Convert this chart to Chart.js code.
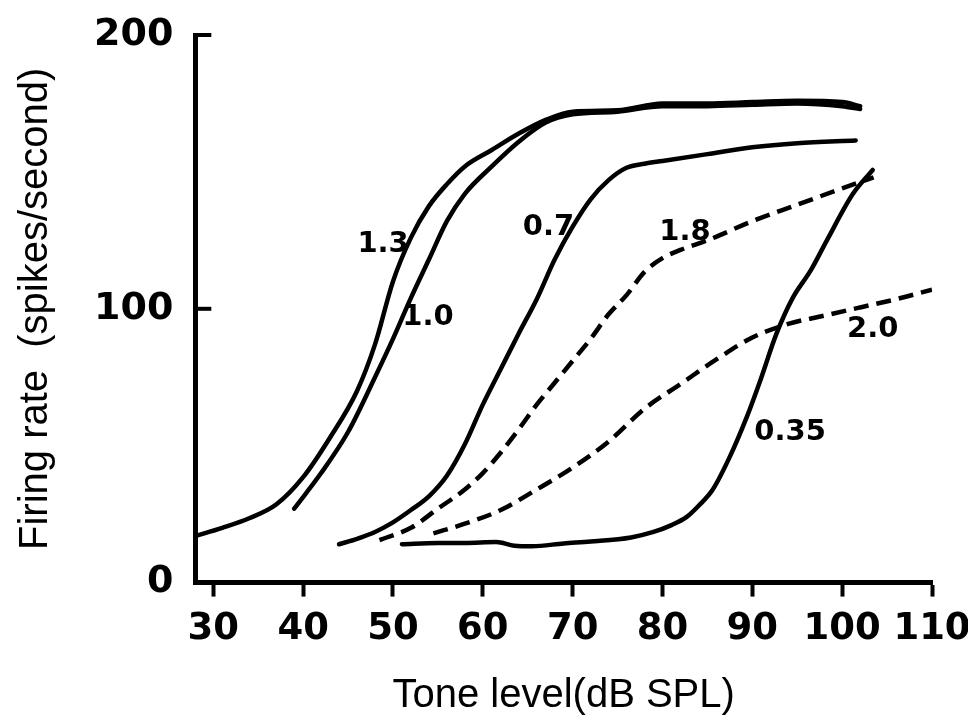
<!DOCTYPE html>
<html>
<head>
<meta charset="utf-8">
<title>Firing rate vs tone level</title>
<script src="https://cdn.jsdelivr.net/npm/chart.js@4.4.1/dist/chart.umd.min.js"></script>
<style>
    html, body { margin: 0; padding: 0; background: #fff; }
    #rateChart { display: block; }
</style>
</head>
<body>
<canvas id="rateChart" width="968" height="720"></canvas>
<script>
// Axis ticks
const xTicks = [30, 40, 50, 60, 70, 80, 90, 100, 110];
const yTicks = [0, 100, 200];

// Curve names (characteristic frequency of each fibre)
const curveNames = ['1.3', '1.0', '0.7', '1.8', '2.0', '0.35'];

// Tone level (dB SPL) and firing rate (spikes/second), one pair per curve
const levels13 = [28, 31, 34, 37, 40, 43, 46, 48, 50, 52, 54, 56, 58, 61, 64, 67, 70, 75, 80, 85, 90, 95, 100, 102];
const rates13  = [17, 20, 23.5, 28.5, 38.5, 53, 70, 87, 110, 126, 137.5, 145.5, 152, 158, 164, 169, 172, 172.5, 175, 175, 175.5, 176, 175.5, 174];

const levels10 = [39, 42, 45, 48, 50, 52, 54, 56, 58, 61, 64, 67, 70, 75, 80, 85, 90, 95, 100, 102];
const rates10  = [27, 40, 55, 75, 89, 104, 118, 132, 142, 152, 161, 168, 171, 172, 174, 174, 174.5, 175, 174, 173];

const levels07 = [44, 46, 48, 50, 52, 54, 56, 58, 60, 62, 64, 66, 68, 70, 72, 74, 76, 78, 80, 85, 90, 95, 101.5];
const rates07  = [14, 16, 18.5, 22, 26.5, 31.5, 39, 50.5, 65, 78, 91, 103.5, 118, 130, 140, 147, 151.5, 153, 154, 156.5, 159, 160.5, 161.5];

const levels18 = [48.5, 52, 55, 58, 60, 62, 64, 66, 68, 70, 72, 74, 76, 78, 80, 82, 85, 90, 95, 100, 103.5];
const rates18  = [15.5, 20, 27, 34, 40, 47.5, 56, 65, 73, 81, 89, 98, 105, 113.5, 118.5, 121.5, 125, 132, 138, 144, 148];

const levels20 = [54.5, 58, 62, 66, 70, 74, 78, 82, 86, 90, 94, 98, 102, 106, 110];
const rates20  = [18, 21.5, 26.5, 34, 42, 51.5, 63.5, 72.5, 81.5, 89.5, 94.5, 97.5, 100.5, 103.5, 107];

const levels035 = [51, 55, 58, 61.5, 63.5, 65.5, 69, 72, 76.5, 79, 81, 82.7, 84, 85.6, 87.5, 89.4, 90.8, 92.7, 94.5, 96.5, 98.3, 101.2, 103.4];
const rates035  = [14, 14.5, 14.5, 14.8, 13.5, 13.3, 14.3, 15, 16.5, 18.5, 21, 24, 28, 34, 46, 60.6, 73, 91, 104, 114, 125, 142, 150.7];

// Where each curve's name is written (dB SPL, spikes/second)
const labelLevels = [48.9, 53.9, 67.3, 82.5, 103.4, 94.2];
const labelRates  = [123.4, 96.7, 129.6, 128, 92.3, 55];

const tickFont = "'DejaVu Sans', sans-serif";
const titleFont = "'Liberation Sans', Arial, sans-serif";

document.addEventListener('DOMContentLoaded', function() {
    initializeChart();
});

// Pair up level and rate arrays for a linear x axis
function toPoints(levels, rates) {
    return levels.map((lv, i) => ({ x: lv, y: rates[i] }));
}

function makeDataset(name, levels, rates, dashed) {
    return {
        label: name,
        data: toPoints(levels, rates),
        borderColor: '#000',
        borderWidth: 4.5,
        borderDash: dashed ? [15, 8] : [],
        borderCapStyle: dashed ? 'butt' : 'round',
        cubicInterpolationMode: 'monotone',
        pointRadius: 0,
        fill: false
    };
}

// Inward ticks on the y axis and the curve names
const annotatePlugin = {
    id: 'annotate',
    afterDatasetsDraw(chart) {
        const ctx = chart.ctx;
        const xs = chart.scales.x;
        const ys = chart.scales.y;
        const left = chart.chartArea.left;

        ctx.save();
        ctx.strokeStyle = '#000';
        ctx.lineWidth = 4;
        yTicks.forEach(v => {
            if (v === 0) return;
            const py = ys.getPixelForValue(v);
            ctx.beginPath();
            ctx.moveTo(left, py);
            ctx.lineTo(left + 16, py);
            ctx.stroke();
        });

        ctx.fillStyle = '#000';
        ctx.font = "bold 29px " + tickFont;
        ctx.textAlign = 'center';
        ctx.textBaseline = 'middle';
        curveNames.forEach((name, i) => {
            ctx.fillText(name, xs.getPixelForValue(labelLevels[i]), ys.getPixelForValue(labelRates[i]));
        });
        ctx.restore();
    }
};

function initializeChart() {
    const ctx = document.getElementById('rateChart').getContext('2d');
    new Chart(ctx, {
        type: 'line',
        data: {
            datasets: [
                makeDataset(curveNames[0], levels13, rates13, false),
                makeDataset(curveNames[1], levels10, rates10, false),
                makeDataset(curveNames[2], levels07, rates07, false),
                makeDataset(curveNames[3], levels18, rates18, true),
                makeDataset(curveNames[4], levels20, rates20, true),
                makeDataset(curveNames[5], levels035, rates035, false)
            ]
        },
        options: {
            responsive: false,
            devicePixelRatio: 1,
            animation: false,
            layout: { padding: { left: 8, right: 36, top: 35, bottom: 0 } },
            plugins: {
                legend: { display: false },
                tooltip: { enabled: false }
            },
            scales: {
                x: {
                    type: 'linear',
                    min: 28,
                    max: 110,
                    afterBuildTicks: axis => { axis.ticks = xTicks.map(v => ({ value: v })); },
                    // don't let the end labels push the plot area in
                    afterFit: axis => { axis.paddingLeft = 0; axis.paddingRight = 0; },
                    ticks: {
                        color: '#000',
                        font: { family: tickFont, size: 37, weight: 'bold' },
                        padding: 11,
                        maxRotation: 0,
                        autoSkip: false
                    },
                    grid: {
                        drawOnChartArea: false,
                        drawTicks: true,
                        tickLength: 14,
                        tickWidth: 4,
                        tickColor: '#000'
                    },
                    border: { display: true, color: '#000', width: 5 },
                    title: {
                        display: true,
                        text: 'Tone level(dB SPL)',
                        color: '#000',
                        font: { family: titleFont, size: 40 },
                        padding: { top: 9, bottom: 0 }
                    }
                },
                y: {
                    type: 'linear',
                    min: 0,
                    max: 200,
                    afterBuildTicks: axis => { axis.ticks = yTicks.map(v => ({ value: v })); },
                    afterFit: axis => { axis.paddingTop = 0; axis.paddingBottom = 0; },
                    ticks: {
                        color: '#000',
                        font: { family: tickFont, size: 38, weight: 'bold' },
                        padding: 22
                    },
                    grid: { drawOnChartArea: false, drawTicks: false },
                    border: { display: true, color: '#000', width: 5 },
                    title: {
                        display: true,
                        text: 'Firing rate  (spikes/second)',
                        color: '#000',
                        font: { family: titleFont, size: 40 },
                        padding: { top: 4, bottom: 12 }
                    }
                }
            }
        },
        plugins: [annotatePlugin]
    });
}
</script>
</body>
</html>
